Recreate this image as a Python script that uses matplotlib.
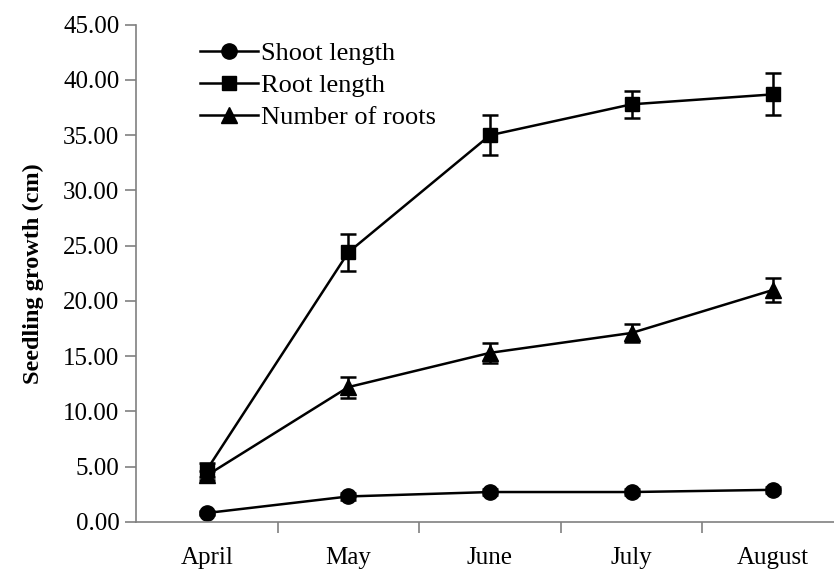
import matplotlib.pyplot as plt
from matplotlib.lines import Line2D
import numpy as np

plt.rcParams['font.family'] = ['Liberation Serif', 'DejaVu Serif']

months = ['April', 'May', 'June', 'July', 'August']
shoot = [0.8, 2.3, 2.7, 2.7, 2.9]
shoot_err = [0.2, 0.3, 0.3, 0.3, 0.3]
root = [4.7, 24.4, 35.0, 37.8, 38.7]
root_err = [0.6, 1.7, 1.8, 1.2, 1.9]
nroots = [4.2, 12.2, 15.3, 17.1, 21.0]
nroots_err = [0.4, 0.95, 0.9, 0.8, 1.1]

fig = plt.figure(figsize=(8.34, 5.76), dpi=100)
ax = fig.add_axes([0.163, 0.094, 0.849, 0.863])

x = np.arange(len(months))
common = dict(color='black', lw=1.8, capsize=6, elinewidth=1.8, capthick=1.8)
ax.errorbar(x, shoot, yerr=shoot_err, marker='o', ms=11, **common)
ax.errorbar(x, root, yerr=root_err, marker='s', ms=10, **common)
ax.errorbar(x, nroots, yerr=nroots_err, marker='^', ms=11, **common)

ax.set_xlim(-0.5, 4.5)
ax.set_ylim(0, 45)
ax.set_yticks(np.arange(0, 46, 5))
ax.set_yticklabels(['%.2f' % v for v in np.arange(0, 46, 5)], fontsize=18)
ax.set_xticks(x)
ax.set_xticklabels(months, fontsize=18)
ax.set_xticks(np.arange(0.5, 4.6, 1), minor=True)
ax.tick_params(axis='x', which='major', length=0, pad=18)
ax.tick_params(axis='x', which='minor', length=8, color='gray', width=1.2)
ax.tick_params(axis='y', length=8, color='gray', width=1.2, pad=4)

for s in ['top', 'right']:
    ax.spines[s].set_visible(False)
for s in ['left', 'bottom']:
    ax.spines[s].set_color('gray')
    ax.spines[s].set_linewidth(1.2)

ax.set_ylabel('Seedling growth (cm)', fontsize=17.5, fontweight='bold', labelpad=14)

handles = [Line2D([], [], color='black', lw=1.8, marker='o', ms=11),
           Line2D([], [], color='black', lw=1.8, marker='s', ms=10),
           Line2D([], [], color='black', lw=1.8, marker='^', ms=11)]
labels = ['Shoot length', 'Root length', 'Number of roots']
ax.legend(handles, labels, loc='upper left', bbox_to_anchor=(0.240, 0.928),
          bbox_transform=fig.transFigure, frameon=False, fontsize=19,
          handlelength=2.2, handletextpad=0.1, labelspacing=0.33,
          borderaxespad=0, borderpad=0)

fig.savefig('out.png', dpi=100)
